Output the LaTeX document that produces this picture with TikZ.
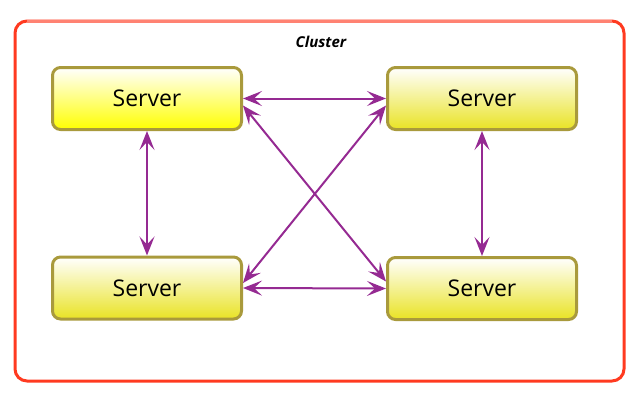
\documentclass[tikz,border=0pt]{standalone}
\usepackage{fontspec}
\setmainfont{Open Sans}
\usepackage{tikz}
\usetikzlibrary{positioning,arrows.meta,calc}
\definecolor{clusterred}{HTML}{FF3A20}
\definecolor{clustertop}{HTML}{FF8272}
\definecolor{serverborder}{HTML}{A99A3C}
\definecolor{serveryellow}{HTML}{E9E324}
\definecolor{linkpurple}{HTML}{952A92}

\begin{document}
\begin{tikzpicture}[x=1pt, y=-1pt,
  server/.style={draw=serverborder, line width=3pt, rounded corners=8pt,
    minimum width=189pt, minimum height=62pt, top color=white,
    bottom color=serveryellow, font=\fontsize{23}{26}\selectfont},
  link/.style={linkpurple, line width=2pt,
    {Stealth[length=19pt,width=15pt,inset=8pt]}-{Stealth[length=19pt,width=15pt,inset=8pt]}}]
  \useasboundingbox (0,0) rectangle (640,400);
  % cluster frame
  \draw[clusterred, line width=3pt, rounded corners=12pt] (15,21) rectangle (624,381);
  \draw[clustertop, line width=3pt] (27,21) -- (612,21);
  \node[font=\fontsize{15}{18}\selectfont\bfseries\itshape] (cluster) at (321,42) {Cluster};
  % servers
  \node[server, bottom color=yellow] (tl) at (147,98.5) {Server};
  \node[server] (tr) at (482,98.5) {Server};
  \node[server] (bl) at (147,288) {Server};
  \node[server] (br) at (482,288.5) {Server};
  % links
  \draw[link] (tl.east) -- (tr.west);
  \draw[link] (bl.east) -- (br.west);
  \draw[link] (tl.south) -- (bl.north);
  \draw[link] (tr.south) -- (br.north);
  \draw[link] ([yshift=-7pt]tl.east) -- ([yshift=7pt]br.west);
  \draw[link] ([yshift=5pt]bl.east) -- ([yshift=-7pt]tr.west);
\end{tikzpicture}
\end{document}
